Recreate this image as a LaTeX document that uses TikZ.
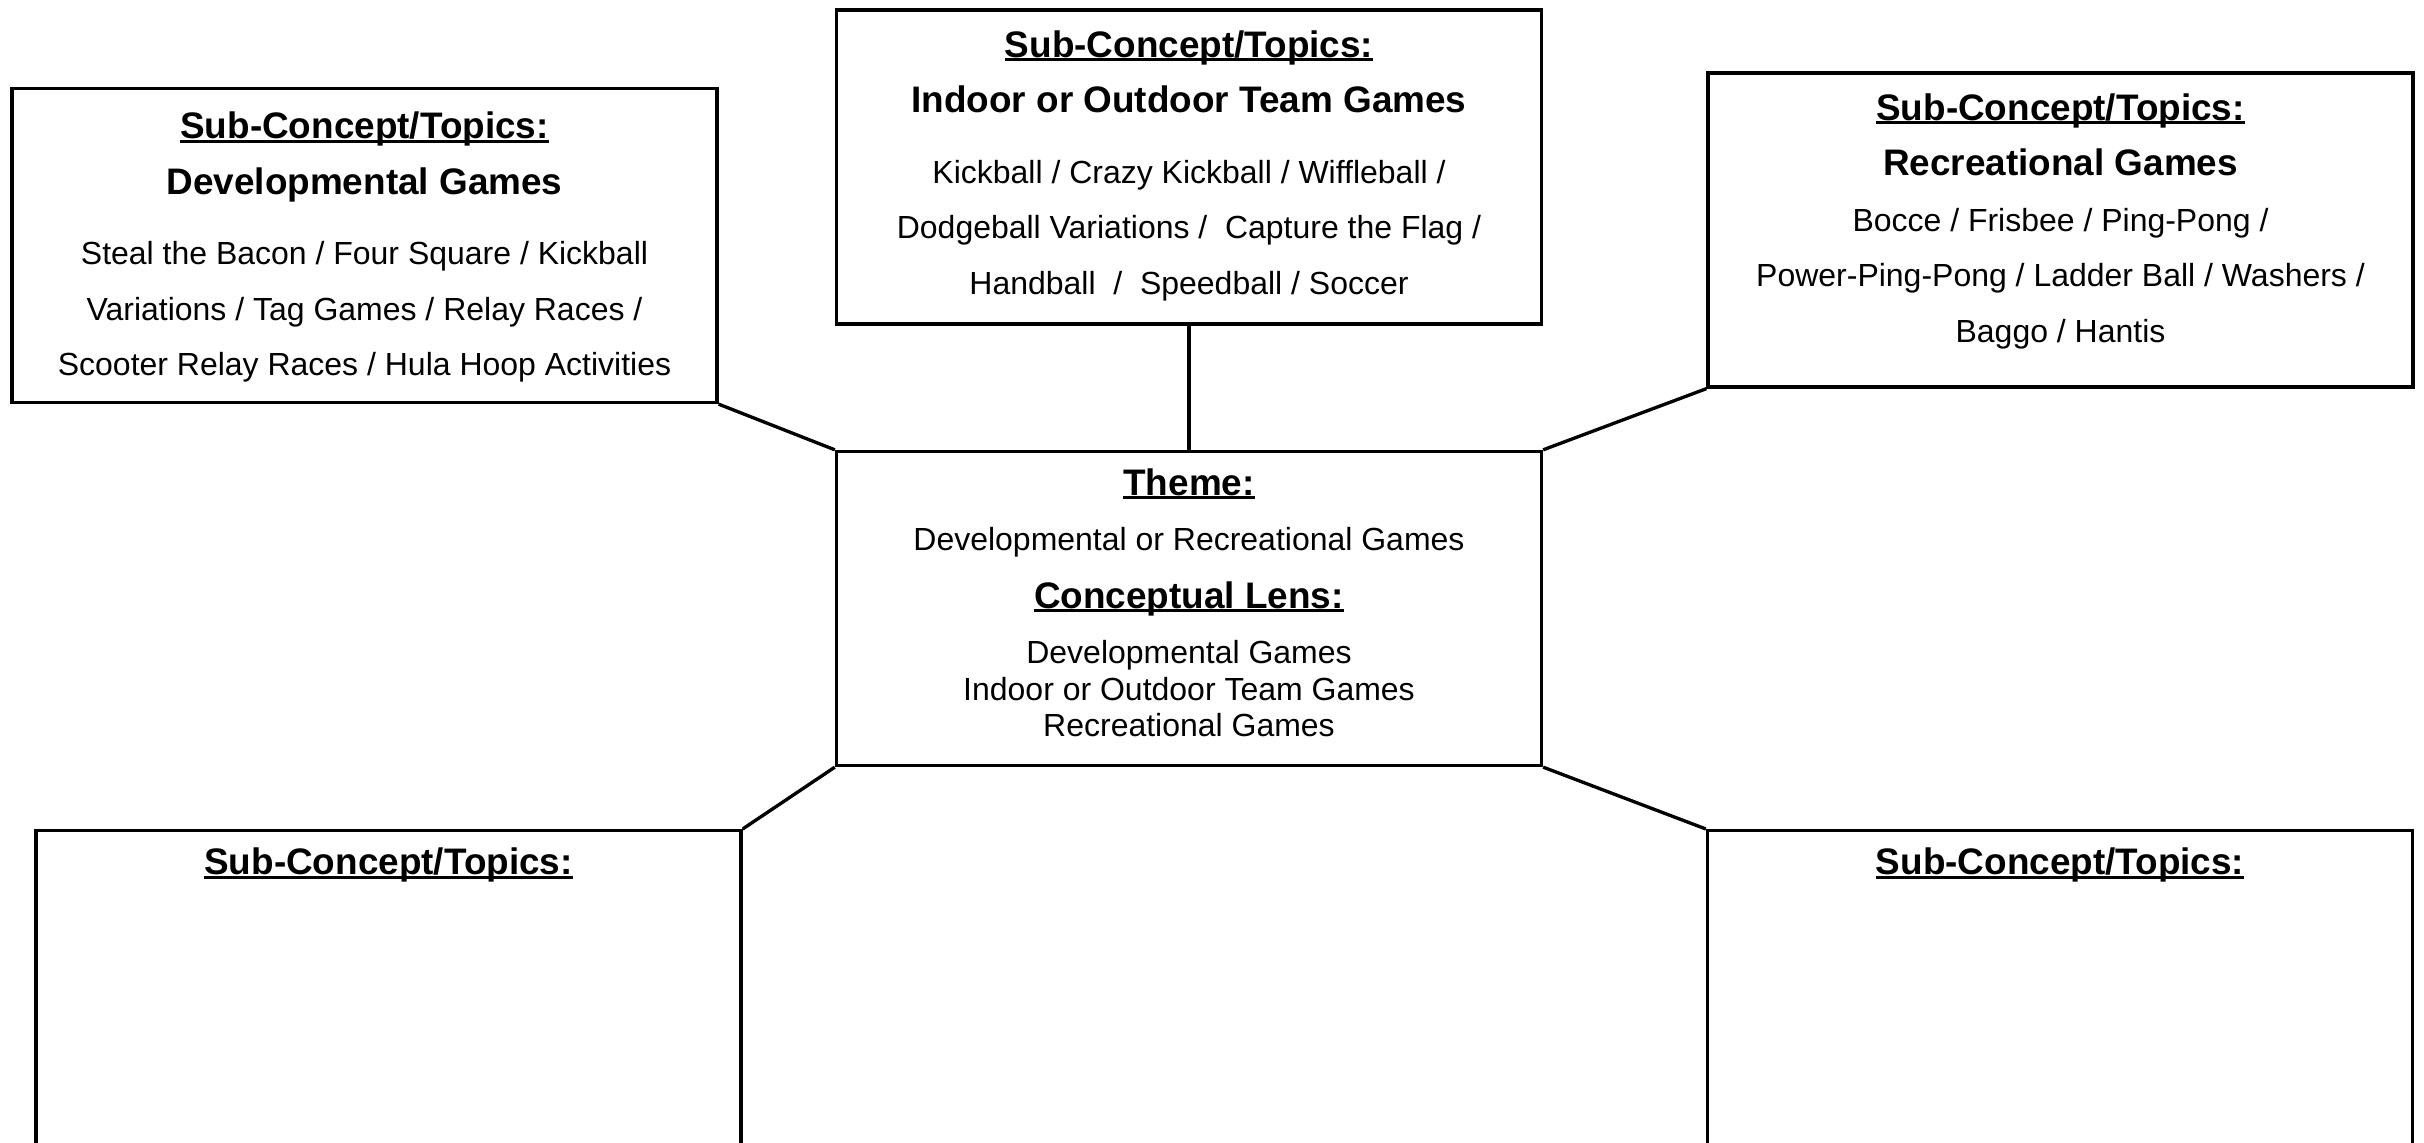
\documentclass[tikz,border=0pt]{standalone}
\usepackage{fontspec}
\setmainfont{Liberation Sans}
\usetikzlibrary{positioning}

% bold heading font and underlined heading
\newcommand{\hd}{\fontsize{10.5}{12}\selectfont\bfseries}
\newcommand{\ulhead}[1]{\setbox0=\hbox{#1}\rlap{\rule[-1.1pt]{\wd0}{0.8pt}}\box0}

\tikzset{
    topicbox/.style={draw, line width=0.95pt, minimum width=7.05cm,
        minimum height=3.14cm, inner sep=0pt},
    boxtext/.style={align=center, anchor=base, inner sep=0pt,
        font=\fontsize{9.1}{15.8}\selectfont},
    link/.style={line width=0.95pt}
}

\begin{document}
\begin{tikzpicture}
\useasboundingbox (0,0) rectangle (24.24,11.43);
\clip (0,0) rectangle (24.24,11.43);

% boxes
\node[topicbox] (devbox)   at (3.645,8.975) {};
\node[topicbox] (teambox)  at (11.89,9.76)  {};
\node[topicbox] (recbox)   at (20.605,9.13) {};
\node[topicbox] (themebox) at (11.89,5.345) {};
\node[topicbox, minimum height=3.5cm, anchor=north] (leftbox)  at (3.885,3.14) {};
\node[topicbox, minimum height=3.5cm, anchor=north] (rightbox) at (20.60,3.14) {};

% texts (base = baseline of the last line)
\node[boxtext] (devtext) at ([yshift=-2.89cm]devbox.north)
    {{\hd\ulhead{Sub-Concept/Topics:}}\\
     {\hd Developmental Games}\\[0.15cm]
     Steal the Bacon / Four Square / Kickball\\
     Variations / Tag Games / Relay Races /\\
     Scooter Relay Races / Hula Hoop Activities};
\node[boxtext] (teamtext) at ([yshift=-2.86cm]teambox.north)
    {{\hd\ulhead{Sub-Concept/Topics:}}\\
     {\hd Indoor or Outdoor Team Games}\\[0.15cm]
     Kickball / Crazy Kickball / Wiffleball /\\
     Dodgeball Variations /~ Capture the Flag /\\
     Handball ~/~ Speedball / Soccer};
\node[boxtext] (rectext) at ([yshift=-2.71cm]recbox.north)
    {{\hd\ulhead{Sub-Concept/Topics:}}\\
     {\hd Recreational Games}\\
     Bocce / Frisbee / Ping-Pong /\\
     Power-Ping-Pong / Ladder Ball / Washers /\\
     Baggo / Hantis};
\node[boxtext] (themetext) at ([yshift=-2.87cm]themebox.north)
    {{\hd\ulhead{Theme:}}\\
     Developmental or Recreational Games\\[0.02cm]
     {\hd\ulhead{Conceptual Lens:}}\\
     Developmental Games\\[-0.19cm]
     Indoor or Outdoor Team Games\\[-0.19cm]
     Recreational Games};
\node[boxtext] (lefttext) at ([yshift=-0.46cm]leftbox.north)
    {\hd\ulhead{Sub-Concept/Topics:}};
\node[boxtext] (righttext) at ([yshift=-0.46cm]rightbox.north)
    {\hd\ulhead{Sub-Concept/Topics:}};

% connectors
\draw[link] (devbox.south east) -- (themebox.north west);
\draw[link] (teambox.south) -- (themebox.north);
\draw[link] (recbox.south west) -- (themebox.north east);
\draw[link] (themebox.south west) -- (leftbox.north east);
\draw[link] (themebox.south east) -- (rightbox.north west);
\end{tikzpicture}
\end{document}
